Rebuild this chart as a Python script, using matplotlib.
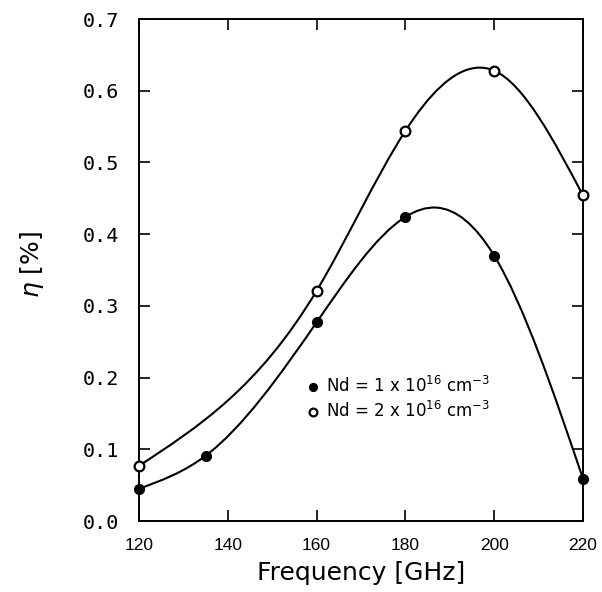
import numpy as np
import matplotlib
matplotlib.use("Agg")
import matplotlib.pyplot as plt
from matplotlib.path import Path
from matplotlib.patches import PathPatch
from matplotlib.ticker import FormatStrFormatter

# measured points
freq_nd1 = [120, 135, 160, 180, 200, 220]
eta_nd1 = [0.045, 0.091, 0.277, 0.424, 0.370, 0.059]
freq_nd2 = [120, 160, 180, 200, 220]
eta_nd2 = [0.077, 0.321, 0.544, 0.628, 0.454]

# knots of the drawn fit curves (markers + points)
curve1_f = [120, 135, 160, 180, 187, 200, 220]
curve1_eta = [0.045, 0.091, 0.277, 0.424, 0.437, 0.370, 0.059]
curve2_f = [120, 140, 160, 180, 196, 200, 220]
curve2_eta = [0.077, 0.168, 0.321, 0.544, 0.632, 0.628, 0.454]

label1 = r"Nd = 1 x 10$^{16}$ cm$^{-3}$"
label2 = r"Nd = 2 x 10$^{16}$ cm$^{-3}$"


def spline_path(xs, ys):
    # natural cubic spline, handed to matplotlib as bezier segments
    xs = np.asarray(xs, float)
    ys = np.asarray(ys, float)
    n = len(xs)
    h = np.diff(xs)
    A = np.zeros((n, n))
    r = np.zeros(n)
    A[0, 0] = A[-1, -1] = 1
    for i in range(1, n - 1):
        A[i, i - 1] = h[i - 1]
        A[i, i] = 2 * (h[i - 1] + h[i])
        A[i, i + 1] = h[i]
        r[i] = 6 * ((ys[i + 1] - ys[i]) / h[i] - (ys[i] - ys[i - 1]) / h[i - 1])
    M = np.linalg.solve(A, r)
    m = np.empty(n)
    m[:-1] = np.diff(ys) / h - h * (2 * M[:-1] + M[1:]) / 6
    m[-1] = (ys[-1] - ys[-2]) / h[-1] + h[-1] * (M[-2] + 2 * M[-1]) / 6
    verts = [(xs[0], ys[0])]
    codes = [Path.MOVETO]
    for i in range(n - 1):
        verts += [(xs[i] + h[i] / 3, ys[i] + m[i] * h[i] / 3),
                  (xs[i + 1] - h[i] / 3, ys[i + 1] - m[i + 1] * h[i] / 3),
                  (xs[i + 1], ys[i + 1])]
        codes += [Path.CURVE4] * 3
    return Path(verts, codes)


fig = plt.figure(figsize=(6.02, 5.92), dpi=100)
ax = fig.add_axes([0.2309, 0.1199, 0.7375, 0.848])

for cf, ce in [(curve1_f, curve1_eta), (curve2_f, curve2_eta)]:
    ax.add_patch(PathPatch(spline_path(cf, ce), fill=False, lw=1.5,
                           edgecolor="black", capstyle="round"))

ax.plot(freq_nd1, eta_nd1, "o", color="black", ms=7, clip_on=False,
        zorder=5, label=label1)
ax.plot(freq_nd2, eta_nd2, "o", mfc="white", mec="black", mew=1.6, ms=7,
        clip_on=False, zorder=5, label=label2)

ax.set_xlim(120, 220)
ax.set_ylim(0, 0.7)
ax.set_xticks(np.arange(120, 221, 20))
ax.set_yticks(np.arange(0, 0.71, 0.1))
ax.yaxis.set_major_formatter(FormatStrFormatter("%.1f"))

ax.tick_params(direction="in", length=8, width=1.2, top=True, right=True)
ax.tick_params(axis="x", pad=12)
ax.tick_params(axis="y", pad=14)
for t in ax.get_xticklabels():
    t.set_fontfamily("Liberation Sans")
    t.set_fontsize(12.5)
for t in ax.get_yticklabels():
    t.set_fontfamily("DejaVu Sans Mono")
    t.set_fontsize(14.5)
for s in ax.spines.values():
    s.set_linewidth(1.4)

ax.set_xlabel("Frequency [GHz]", fontsize=18, labelpad=6)
ax.set_ylabel(r"$\eta$ [%]", fontsize=18)
ax.yaxis.set_label_coords(-0.21, 0.51)

ax.legend(loc="upper left", bbox_to_anchor=(0.362, 0.305), frameon=False,
          fontsize=12, handlelength=0.6, handletextpad=0.5, borderpad=0,
          labelspacing=0.3, markerscale=0.8)

fig.savefig("out.png", dpi=100)
